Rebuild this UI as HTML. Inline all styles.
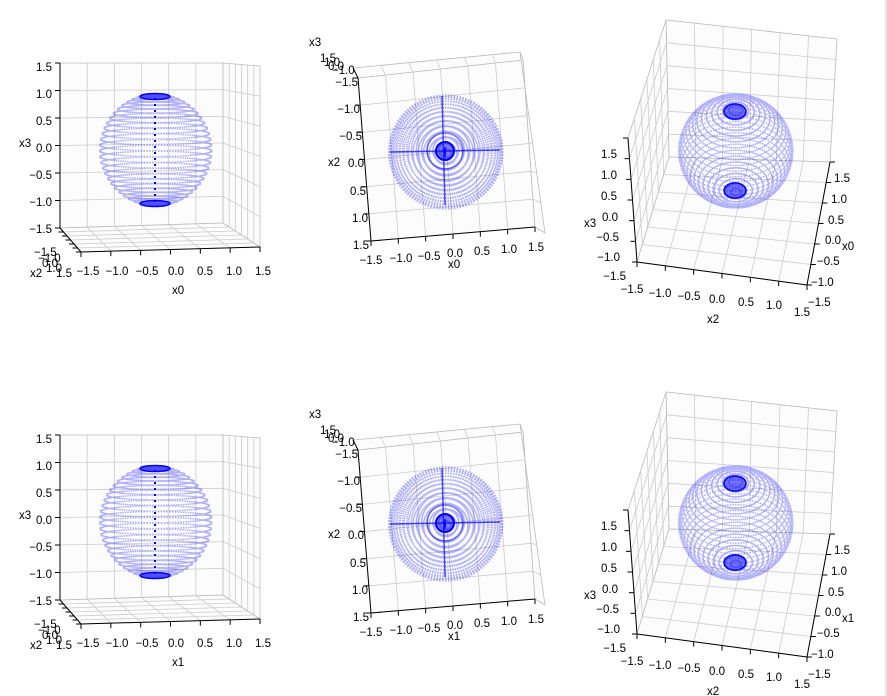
<!DOCTYPE html>
<html><head><meta charset="utf-8"><style>
body{margin:0;background:#fff;width:887px;height:696px;overflow:hidden}
svg{position:absolute;left:0;top:0}
text{font-family:"Liberation Sans",sans-serif;font-size:11.5px;fill:#000}
</style></head><body>
<svg id="s" width="887" height="696" viewBox="0 0 887 696">
<g id="g0"></g>
<g id="g1" transform="translate(0,372)"></g>
<line x1="886" y1="0" x2="886" y2="696" stroke="#ccc"/>
<g id="t0">
<g text-anchor="end"><text x="52" y="71">1.5</text><text x="52" y="98">1.0</text><text x="52" y="125">0.5</text><text x="52" y="152">0.0</text><text x="52" y="179">−0.5</text><text x="52" y="206">−1.0</text><text x="52" y="233">−1.5</text></g>
<text x="19" y="147">x3</text>
<g text-anchor="middle"><text x="88" y="275">−1.5</text><text x="117" y="275">−1.0</text><text x="147" y="275">−0.5</text><text x="176" y="275">0.0</text><text x="205" y="275">0.5</text><text x="234" y="275">1.0</text><text x="263" y="275">1.5</text></g>
<text x="172" y="294">x0</text>
<text x="34" y="256" font-size="10.5">−1.5</text><text x="38" y="262" font-size="10.5">−1.0</text><text x="42" y="267" font-size="10.5">0.0</text><text x="46" y="272" font-size="10.5">1.0</text><text x="56" y="277">1.5</text>
<text x="30" y="277">x2</text>
<text x="309" y="46">x3</text>
<text x="320" y="62" font-size="10.5">1.5</text><text x="324" y="66" font-size="10.5">1.0</text><text x="328" y="70" font-size="10.5">0.0</text><text x="332" y="74" font-size="10.5">−1.0</text>
<g text-anchor="end"><text x="358" y="86">−1.5</text><text x="360" y="113">−1.0</text><text x="362" y="140">−0.5</text><text x="364" y="167">0.0</text><text x="366" y="195">0.5</text><text x="368" y="222">1.0</text><text x="369" y="249">1.5</text></g>
<text x="328" y="166">x2</text>
<g text-anchor="middle"><text x="371" y="264">−1.5</text><text x="401" y="262">−1.0</text><text x="429" y="260">−0.5</text><text x="455" y="257">0.0</text><text x="482" y="255">0.5</text><text x="509" y="253">1.0</text><text x="536" y="251">1.5</text></g>
<text x="448" y="268">x0</text>
<g text-anchor="end"><text x="617" y="158">1.5</text><text x="617" y="179">1.0</text><text x="617" y="200">0.5</text><text x="618" y="221">0.0</text><text x="619" y="241">−0.5</text><text x="620" y="261">−1.0</text><text x="626" y="280">−1.5</text></g>
<text x="584" y="227">x3</text>
<g text-anchor="middle"><text x="632" y="293">−1.5</text><text x="660" y="297">−1.0</text><text x="689" y="300">−0.5</text><text x="717" y="303">0.0</text><text x="746" y="306">0.5</text><text x="774" y="309">1.0</text><text x="802" y="316">1.5</text></g>
<text x="707" y="323">x2</text>
<g><text x="834" y="182">1.5</text><text x="831" y="203">1.0</text><text x="828" y="224">0.5</text><text x="825" y="244">0.0</text><text x="817" y="265">−0.5</text><text x="811" y="286">−1.0</text><text x="808" y="306">−1.5</text></g>
<text x="842" y="250">x0</text>
</g>
</svg>
<script>
var NS="http://www.w3.org/2000/svg";
function el(p,n,a){var e=document.createElementNS(NS,n);for(var k in a)e.setAttribute(k,a[k]);p.appendChild(e);return e;}
function L(a,b,t){return [a[0]+(b[0]-a[0])*t,a[1]+(b[1]-a[1])*t];}
function quad(g,p00,p10,p11,p01,nu,nv){
 el(g,"polygon",{points:[p00,p10,p11,p01].map(function(p){return p.join(",")}).join(" "),fill:"#fcfcfc",stroke:"#bbb","stroke-width":0.8});
 for(var i=1;i<nu;i++){var t=i/nu;var a=L(p00,p10,t),b=L(p01,p11,t);el(g,"line",{x1:a[0],y1:a[1],x2:b[0],y2:b[1],stroke:"#ccc","stroke-width":0.8});}
 for(var i=1;i<nv;i++){var t=i/nv;var a=L(p00,p01,t),b=L(p10,p11,t);el(g,"line",{x1:a[0],y1:a[1],x2:b[0],y2:b[1],stroke:"#ccc","stroke-width":0.8});}
}
function ln(g,a,b){el(g,"line",{x1:a[0],y1:a[1],x2:b[0],y2:b[1],stroke:"#000","stroke-width":1});}
function ticks(g,a,b,dx,dy){for(var i=0;i<7;i++){var p=L(a,b,i/6);ln(g,p,[p[0]+dx,p[1]+dy]);}}
function sphere(g,cx,cy,R,ax,pr){
 var n=Math.hypot(ax[0],ax[1],ax[2]);ax=ax.map(function(v){return v/n});
 var e1=[1,0,0];var d=e1[0]*ax[0];e1=[1-d*ax[0],-d*ax[1],-d*ax[2]];n=Math.hypot(e1[0],e1[1],e1[2]);e1=e1.map(function(v){return v/n});
 var e2=[ax[1]*e1[2]-ax[2]*e1[1],ax[2]*e1[0]-ax[0]*e1[2],ax[0]*e1[1]-ax[1]*e1[0]];
 var s="";
 for(var la=-85;la<=85;la+=6){var c=Math.cos(la*Math.PI/180),sn=Math.sin(la*Math.PI/180);
  for(var lo=0;lo<360;lo+=3){var co=Math.cos(lo*Math.PI/180),so=Math.sin(lo*Math.PI/180);
   var x=c*co*e1[0]+c*so*e2[0]+sn*ax[0],y=c*co*e1[1]+c*so*e2[1]+sn*ax[1];
   var X=cx+R*x,Y=cy-R*y;s+="M"+X.toFixed(1)+","+Y.toFixed(1)+"h1.5";}}
 el(g,"path",{d:s,stroke:"#00f","stroke-opacity":0.3,"stroke-width":1.5,fill:"none"});
 [1,-1].forEach(function(sg){var X=cx+R*ax[0]*sg*0.96,Y=cy-R*ax[1]*sg*0.96;
  var ry=Math.max(3,pr*Math.abs(ax[2]));el(g,"ellipse",{cx:X,cy:Y,rx:pr,ry:ry,fill:"#00f","fill-opacity":0.55,stroke:"#00f","stroke-width":1.5});});
}
function panel(g){
 quad(g,[60,228],[223,223],[223,63],[60,63],6,6);
 quad(g,[223,223],[260,247],[260,66],[223,63],6,6);
 quad(g,[60,228],[223,223],[260,247],[81,252],6,6);
 ln(g,[60,63],[60,228]);ticks(g,[60,63],[60,228],-5,0);
 ln(g,[81,252],[260,247]);ticks(g,[81,252],[260,247],0,5);
 ln(g,[60,228],[81,252]);ticks(g,[60,228],[81,252],-5,0);
 sphere(g,155,150,56,[0,0.995,0.1],15);
 el(g,"line",{x1:155,y1:98,x2:155,y2:205,stroke:"#00f","stroke-width":2,"stroke-dasharray":"2 4"});
 quad(g,[358,78],[523,60],[535,227],[371,241],6,6);
 quad(g,[353,68],[520,52],[523,60],[358,78],6,1);
 quad(g,[523,60],[520,52],[545,233],[535,227],1,6);
 ln(g,[358,78],[371,241]);ticks(g,[358,78],[371,241],-5,0);
 ln(g,[371,241],[535,227]);ticks(g,[371,241],[535,227],0,5);
 ln(g,[353,68],[358,78]);
 sphere(g,445,152,57,[0,0.03,1],0.1);
 el(g,"circle",{cx:445,cy:151,r:9,fill:"#00f","fill-opacity":0.5,stroke:"#00f","stroke-width":2});
 el(g,"circle",{cx:445,cy:151,r:18,fill:"none",stroke:"#00f","stroke-width":1.5,"stroke-opacity":0.5});
 el(g,"line",{x1:390,y1:152,x2:500,y2:150,stroke:"#00f","stroke-width":1.5,"stroke-opacity":0.7});
 el(g,"line",{x1:442,y1:96,x2:445,y2:205,stroke:"#00f","stroke-width":1.5,"stroke-opacity":0.7});
 quad(g,[669,157],[830,162],[837,39],[666,20],6,6);
 quad(g,[628,138],[666,20],[669,157],[637,262],6,6);
 quad(g,[637,262],[807,285],[830,162],[669,157],6,6);
 ln(g,[628,138],[637,262]);ticks(g,[628,138],[637,262],-5,0);
 ln(g,[637,262],[807,285]);ticks(g,[637,262],[807,285],0,5);
 ln(g,[807,285],[830,162]);ticks(g,[807,285],[830,162],5,0);
 sphere(g,735,151,57,[0,0.72,0.69],11);
}
panel(document.getElementById("g0"));panel(document.getElementById("g1"));
var t=document.getElementById("t0").cloneNode(true);t.setAttribute("transform","translate(0,372)");
Array.prototype.forEach.call(t.querySelectorAll("text"),function(x){if(x.textContent=="x0")x.textContent="x1";});
document.getElementById("s").appendChild(t);
</script>
</body></html>
